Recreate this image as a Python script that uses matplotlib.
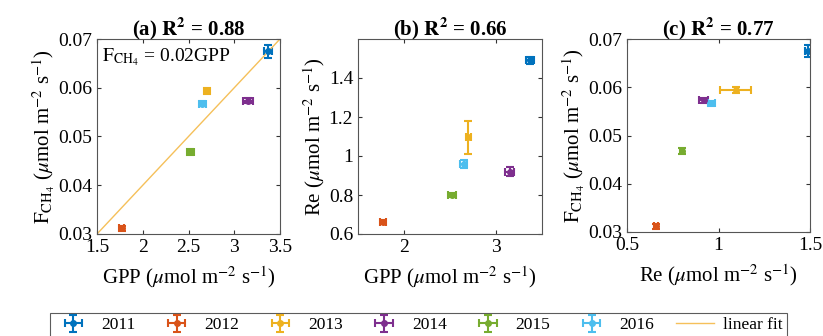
import matplotlib
matplotlib.use('Agg')
import matplotlib.pyplot as plt
import numpy as np

plt.rcParams['font.family'] = ['Liberation Serif', 'DejaVu Serif']
plt.rcParams['mathtext.fontset'] = 'stix'

# data
years = ['2011', '2012', '2013', '2014', '2015', '2016']
colors = ['#0072BD', '#D95319', '#EDB120', '#7E2F8E', '#77AC30', '#4DBEEE']
gpp = [3.37, 1.77, 2.70, 3.15, 2.52, 2.65]
gpp_err = [0.04, 0.03, 0.03, 0.05, 0.04, 0.04]
fch4 = [0.0675, 0.0312, 0.0594, 0.0573, 0.0468, 0.0567]
fch4_err = [0.0013, 0.0005, 0.0006, 0.0005, 0.0006, 0.0005]
re = [1.49, 0.66, 1.095, 0.92, 0.80, 0.96]
re_err = [0.02, 0.01, 0.085, 0.025, 0.012, 0.02]
fit_slope = 0.02
fit_x = [1.5, 3.5]
titles = [r'(a) $\mathbf{R^2}$ = 0.88', r'(b) $\mathbf{R^2}$ = 0.66', r'(c) $\mathbf{R^2}$ = 0.77']

unit = r'($\mu$mol m$^{-2}$ s$^{-1}$)'
fch4_label = r'$\mathrm{F_{CH_4}}$ ' + unit

fig = plt.figure(figsize=(8.23, 3.36), dpi=100)
W, H = 823, 336
boxes = [(97, 39, 280, 234), (358, 39, 542, 234), (627, 39, 810, 232)]
axes = []
for (l, t, r, b) in boxes:
    axes.append(fig.add_axes([l / W, 1 - b / H, (r - l) / W, (b - t) / H]))

panels = [
    (gpp, gpp_err, fch4, fch4_err),
    (gpp, gpp_err, re, re_err),
    (re, re_err, fch4, fch4_err),
]

handles = []
for k, (ax, (xs, xe, ys, ye)) in enumerate(zip(axes, panels)):
    for i in range(len(years)):
        h = ax.errorbar(xs[i], ys[i], xerr=xe[i], yerr=ye[i], fmt='o',
                        color=colors[i], markersize=4, elinewidth=1.5,
                        capsize=3, capthick=1.5, label=years[i])
        if k == 0:
            handles.append(h)
    ax.tick_params(direction='in', top=True, right=True, labelsize=14,
                   color='#333333', length=3)
    for s in ax.spines.values():
        s.set_color('#555555')
    ax.set_title(titles[k], fontsize=15, fontweight='bold', pad=3)

# (a)
ax = axes[0]
fx = np.array(fit_x)
fl, = ax.plot(fx, fit_slope * fx, color='#F5C05A', lw=1, label='linear fit')
ax.set_xlim(1.5, 3.5)
ax.set_ylim(0.03, 0.07)
ax.set_xticks([1.5, 2, 2.5, 3, 3.5])
ax.set_xticklabels(['1.5', '2', '2.5', '3', '3.5'])
ax.set_yticks([0.03, 0.04, 0.05, 0.06, 0.07])
ax.set_xlabel('GPP ' + unit, fontsize=15, labelpad=6)
ax.set_ylabel(fch4_label, fontsize=15, labelpad=1)
ax.text(0.03, 0.96, r'$\mathrm{F_{CH_4}}$ = 0.02GPP', transform=ax.transAxes,
        ha='left', va='top', fontsize=14)

# (b)
ax = axes[1]
ax.set_xlim(1.5, 3.5)
ax.set_ylim(0.6, 1.6)
ax.set_xticks([2, 3])
ax.set_yticks([0.6, 0.8, 1.0, 1.2, 1.4])
ax.set_yticklabels(['0.6', '0.8', '1', '1.2', '1.4'])
ax.set_xlabel('GPP ' + unit, fontsize=15, labelpad=6)
ax.set_ylabel('Re ' + unit, fontsize=15, labelpad=1)

# (c)
ax = axes[2]
ax.set_xlim(0.5, 1.5)
ax.set_ylim(0.03, 0.07)
ax.set_xticks([0.5, 1, 1.5])
ax.set_xticklabels(['0.5', '1', '1.5'])
ax.set_yticks([0.03, 0.04, 0.05, 0.06, 0.07])
ax.set_xlabel('Re ' + unit, fontsize=15, labelpad=6)
ax.set_ylabel(fch4_label, fontsize=15, labelpad=1)

leg = fig.legend(handles + [fl], years + ['linear fit'], ncol=7,
                 loc='upper left', bbox_to_anchor=(50 / W, 0, 737 / W, 1 - 313 / H),
                 mode='expand', fontsize=12.5, frameon=True, fancybox=False,
                 handlelength=2.2, columnspacing=0.8, handletextpad=0.5,
                 borderpad=0.25, borderaxespad=0)
leg.get_frame().set_edgecolor('#333333')
leg.get_frame().set_linewidth(0.8)

fig.savefig('out.png', dpi=100)
